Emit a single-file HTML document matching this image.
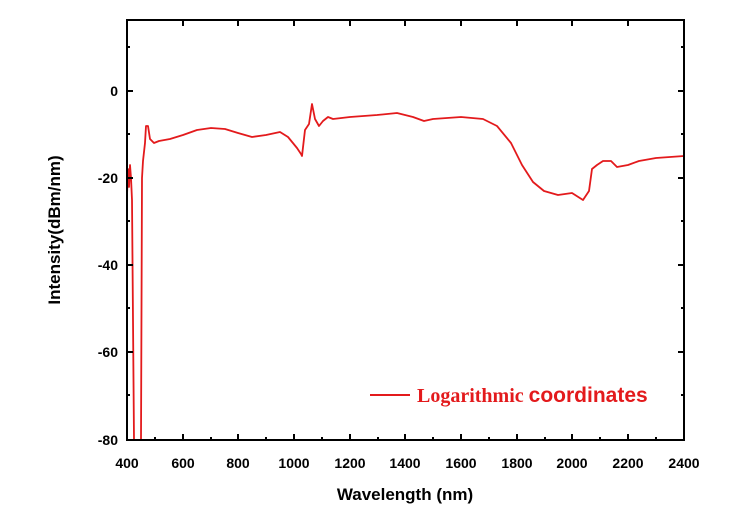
<!DOCTYPE html><html><head><style>body{margin:0;background:#fff}svg{display:block}</style></head><body>
<svg width="752" height="522" xmlns="http://www.w3.org/2000/svg">
<g font-family="Liberation Sans, sans-serif" font-weight="bold" font-size="14" fill="#000">
<text x="127" y="468" text-anchor="middle">400</text><text x="183" y="468" text-anchor="middle">600</text><text x="238" y="468" text-anchor="middle">800</text><text x="294" y="468" text-anchor="middle">1000</text><text x="350" y="468" text-anchor="middle">1200</text><text x="405" y="468" text-anchor="middle">1400</text><text x="461" y="468" text-anchor="middle">1600</text><text x="517" y="468" text-anchor="middle">1800</text><text x="572" y="468" text-anchor="middle">2000</text><text x="628" y="468" text-anchor="middle">2200</text><text x="684" y="468" text-anchor="middle">2400</text>
<text x="118" y="96" text-anchor="end">0</text><text x="118" y="183" text-anchor="end">-20</text><text x="118" y="270" text-anchor="end">-40</text><text x="118" y="357" text-anchor="end">-60</text><text x="118" y="445" text-anchor="end">-80</text>
<text x="405" y="500" text-anchor="middle" font-size="17">Wavelength (nm)</text>
<text transform="translate(60,230) rotate(-90)" text-anchor="middle" font-size="17">Intensity(dBm/nm)</text>
</g>
<polyline fill="none" stroke="#e31a1c" stroke-width="1.8" stroke-linejoin="round" points="127,195 128,169 129,187 130,165 131,178 132,200 134,440 141,440 142,178 143,161 145,143 146,126 148,126 150,139 154,143 159,141 170,139 183,135 197,130 211,128 225,129 238,133 252,137 266,135 280,132 288,137 297,148 301,154 302,156 305,130 309,124 312,104 315,119 319,126 323,121 328,117 333,119 350,117 377,115 397,113 405,115 413,117 424,121 433,119 461,117 483,119 497,126 511,143 522,165 533,182 544,191 558,195 572,193 583,200 589,191 592,169 597,165 603,161 611,161 617,167 628,165 639,161 656,158 684,156"/>
<rect x="127" y="20" width="557" height="420" fill="none" stroke="#000" stroke-width="2"/>
<g stroke="#000" stroke-width="2">
<path d="M127 91h6M127 178h6M127 265h6M127 352h6M684 91h-6M684 178h-6M684 265h-6M684 352h-6M127 134h3M127 221h3M127 308h3M127 395h3M127 47h3M684 134h-3M684 221h-3M684 308h-3M684 395h-3M684 47h-3"/>
<path d="M183 440v-6M238 440v-6M294 440v-6M350 440v-6M405 440v-6M461 440v-6M517 440v-6M572 440v-6M628 440v-6M155 440v-3M211 440v-3M266 440v-3M322 440v-3M378 440v-3M433 440v-3M489 440v-3M545 440v-3M600 440v-3M656 440v-3"/>
<path d="M183 20v6M238 20v6M294 20v6M350 20v6M405 20v6M461 20v6M517 20v6M572 20v6M628 20v6"/>
</g>
<line x1="370" y1="395" x2="410" y2="395" stroke="#e31a1c" stroke-width="2"/>
<text x="417" y="402" font-family="Liberation Serif, serif" font-weight="bold" font-size="20" fill="#e31a1c">Logarithmic <tspan font-family="Liberation Sans, sans-serif" font-size="21">coordinates</tspan></text>
</svg></body></html>
